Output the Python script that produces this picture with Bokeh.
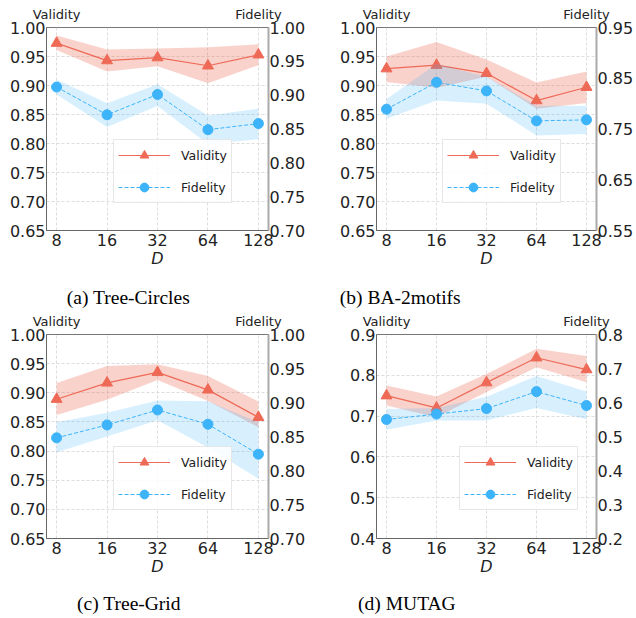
import math
from bokeh.plotting import figure
from bokeh.models import (Range1d, LinearAxis, LogAxis, FixedTicker, PrintfTickFormatter,
                          BasicTickFormatter, Legend, LegendItem)
from bokeh.layouts import gridplot
from bokeh.embed import file_html
from bokeh.resources import INLINE

# ---------------- data ----------------
D = [8, 16, 32, 64, 128]

# (a) Tree-Circles
tc_val    = [0.973, 0.943, 0.948, 0.934, 0.953]
tc_val_lo = [0.961, 0.924, 0.933, 0.904, 0.935]
tc_val_hi = [0.986, 0.962, 0.964, 0.966, 0.971]
tc_fid    = [0.912, 0.871, 0.901, 0.849, 0.858]
tc_fid_lo = [0.901, 0.853, 0.884, 0.828, 0.835]
tc_fid_hi = [0.923, 0.888, 0.916, 0.870, 0.880]

# (b) BA-2motifs
ba_val    = [0.929, 0.935, 0.921, 0.874, 0.897]
ba_val_lo = [0.906, 0.896, 0.915, 0.860, 0.870]
ba_val_hi = [0.950, 0.975, 0.945, 0.905, 0.924]
ba_fid    = [0.789, 0.842, 0.825, 0.766, 0.768]
ba_fid_lo = [0.770, 0.806, 0.800, 0.737, 0.740]
ba_fid_hi = [0.809, 0.878, 0.853, 0.796, 0.796]

# (c) Tree-Grid
tg_val    = [0.889, 0.917, 0.935, 0.905, 0.858]
tg_val_lo = [0.862, 0.888, 0.922, 0.886, 0.841]
tg_val_hi = [0.917, 0.946, 0.949, 0.929, 0.885]
tg_fid    = [0.848, 0.867, 0.889, 0.868, 0.824]
tg_fid_lo = [0.827, 0.850, 0.874, 0.834, 0.788]
tg_fid_hi = [0.871, 0.885, 0.903, 0.902, 0.871]

# (d) MUTAG
mu_val    = [0.750, 0.720, 0.782, 0.843, 0.814]
mu_val_lo = [0.726, 0.697, 0.759, 0.820, 0.783]
mu_val_hi = [0.775, 0.748, 0.803, 0.865, 0.847]
mu_fid    = [0.550, 0.566, 0.582, 0.632, 0.591]
mu_fid_lo = [0.520, 0.547, 0.547, 0.584, 0.551]
mu_fid_hi = [0.581, 0.584, 0.617, 0.678, 0.632]

# tick values
ticks_065_100 = [0.65, 0.70, 0.75, 0.80, 0.85, 0.90, 0.95, 1.00]
ticks_070_100 = [0.70, 0.75, 0.80, 0.85, 0.90, 0.95, 1.00]
ticks_055_095 = [0.55, 0.65, 0.75, 0.85, 0.95]
ticks_04_09 = [0.4, 0.5, 0.6, 0.7, 0.8, 0.9]
ticks_02_08 = [0.2, 0.3, 0.4, 0.5, 0.6, 0.7, 0.8]

RED = "#EE6A57"
BLUE = "#3DB3FA"
TXT = "#222222"
FONT = "DejaVu Sans"
PAD = 0.2  # octaves of padding each side of the D axis


def make_panel(caption, val, val_lo, val_hi, fid, fid_lo, fid_hi,
               lticks, rticks, fmt, width, height, borders, cap_center,
               cap_standoff, leg_loc, thick_legend):
    l, r, t, b = borders
    x_lo, x_hi = D[0] / 2 ** PAD, D[-1] * 2 ** PAD
    p = figure(width=width, height=height, x_axis_type="log", title=None,
               x_range=Range1d(x_lo, x_hi),
               y_range=Range1d(lticks[0], lticks[-1]),
               output_backend="svg", toolbar_location=None,
               min_border_left=l, min_border_right=r,
               min_border_top=t, min_border_bottom=b)
    p.extra_y_ranges = {"fid": Range1d(rticks[0], rticks[-1])}
    p.background_fill_color = "white"
    p.outline_line_color = "#777777"
    p.outline_line_width = 1

    # x axis
    xa = p.xaxis[0]
    xa.ticker = FixedTicker(ticks=D, minor_ticks=[])
    xa.formatter = BasicTickFormatter(use_scientific=False)
    xa.axis_label = "D"
    xa.axis_label_text_font_style = "italic"
    xa.axis_label_text_font = FONT
    xa.axis_label_text_font_size = "16px"
    xa.axis_label_text_color = TXT
    xa.axis_label_standoff = 0

    # left axis
    ya = p.yaxis[0]
    ya.ticker = FixedTicker(ticks=lticks, minor_ticks=[])
    ya.formatter = PrintfTickFormatter(format=fmt)

    # right axis
    ra = LinearAxis(y_range_name="fid",
                    ticker=FixedTicker(ticks=rticks, minor_ticks=[]),
                    formatter=PrintfTickFormatter(format=fmt))
    p.add_layout(ra, "right")

    # top "axis" carrying the series names over the first / last D
    ta = LogAxis(ticker=FixedTicker(ticks=[D[0], D[-1]], minor_ticks=[]),
                 formatter=BasicTickFormatter(use_scientific=False),
                 major_label_overrides={D[0]: "Validity", D[-1]: "Fidelity"})
    p.add_layout(ta, "above")

    # caption below the D axis (sub-figure caption)
    frame_w = width - l - r
    span = math.log2(x_hi) - math.log2(x_lo)
    cap_x = round(2 ** (math.log2(x_lo) + cap_center / frame_w * span), 2)
    ca = LogAxis(ticker=FixedTicker(ticks=[cap_x], minor_ticks=[]),
                 formatter=BasicTickFormatter(use_scientific=False),
                 major_label_overrides={cap_x: caption})
    p.add_layout(ca, "below")

    for ax in (xa, ya, ra, ta, ca):
        ax.major_tick_in = 0
        ax.major_tick_out = 0
        ax.minor_tick_in = 0
        ax.minor_tick_out = 0
        ax.major_label_text_font = FONT
        ax.major_label_text_font_size = "16px"
        ax.major_label_text_color = TXT
        ax.major_label_standoff = 1
        ax.axis_line_color = "#666666"
    ra.axis_line_color = "#aaaaaa"
    ra.axis_line_width = 2
    xa.major_label_standoff = 3
    ta.axis_line_color = None
    ta.major_label_text_font_size = "13px"
    ta.major_label_standoff = 6
    ca.axis_line_color = None
    ca.major_label_text_font = "Liberation Serif"
    ca.major_label_text_font_size = "19.5px"
    ca.major_label_text_color = "black"
    ca.major_label_standoff = cap_standoff

    p.xgrid.grid_line_color = "#dddddd"
    p.xgrid.grid_line_dash = "3 2"
    p.ygrid.grid_line_color = "#dddddd"
    p.ygrid.grid_line_dash = "3 2"

    # validity
    p.varea(x=D, y1=val_lo, y2=val_hi, fill_color=RED, fill_alpha=0.3)
    vl = p.line(D, val, line_color=RED, line_width=1.2)
    vm = p.scatter(D, val, marker="triangle", size=11, fill_color=RED,
                   line_color=RED)
    # fidelity (right axis)
    p.varea(x=D, y1=fid_lo, y2=fid_hi, fill_color=BLUE, fill_alpha=0.2,
            y_range_name="fid")
    fl = p.line(D, fid, line_color=BLUE, line_width=1, line_dash="4 2",
                y_range_name="fid")
    fm = p.scatter(D, fid, marker="circle", size=10, fill_color=BLUE,
                   line_color=BLUE, y_range_name="fid")

    v_rends = [vl, vm]
    if thick_legend:
        band_line = p.line(x=[], y=[], line_color=RED, line_alpha=0.45,
                           line_width=4)
        v_rends = [band_line, vl, vm]

    legend = Legend(items=[LegendItem(label="Validity", renderers=v_rends),
                           LegendItem(label="Fidelity", renderers=[fl, fm])],
                    location=leg_loc)
    legend.label_text_font = FONT
    legend.label_text_font_size = "12.5px"
    legend.label_text_color = TXT
    legend.glyph_width = 52
    legend.glyph_height = 22
    legend.label_height = 22
    legend.spacing = 10
    legend.padding = 4
    legend.margin = 0
    legend.label_standoff = 11
    legend.border_line_color = "#d0d0d0"
    legend.background_fill_alpha = 0.85
    p.add_layout(legend)
    return p


pa = make_panel("(a) Tree-Circles", tc_val, tc_val_lo, tc_val_hi,
                tc_fid, tc_fid_lo, tc_fid_hi, ticks_065_100, ticks_070_100,
                "%.2f", 318, 310, (46, 50, 27, 80), 82, 16, (67, 27), False)
pb = make_panel("(b) BA-2motifs", ba_val, ba_val_lo, ba_val_hi,
                ba_fid, ba_fid_lo, ba_fid_hi, ticks_065_100, ticks_055_095,
                "%.2f", 318, 310, (58, 38, 27, 80), 24, 16, (66, 27), False)
pc = make_panel("(c) Tree-Grid", tg_val, tg_val_lo, tg_val_hi,
                tg_fid, tg_fid_lo, tg_fid_hi, ticks_065_100, ticks_070_100,
                "%.2f", 318, 308, (46, 50, 23, 80), 82.5, 14, (67, 28), True)
pd_ = make_panel("(d) MUTAG", mu_val, mu_val_lo, mu_val_hi,
                 mu_fid, mu_fid_lo, mu_fid_hi, ticks_04_09, ticks_02_08,
                 "%.1f", 318, 308, (49, 30, 24, 80), 33, 14, (83, 28), True)

grid = gridplot([[pa, pb], [pc, pd_]], toolbar_location=None)

open("out.html", "w").write(file_html(grid, INLINE))
